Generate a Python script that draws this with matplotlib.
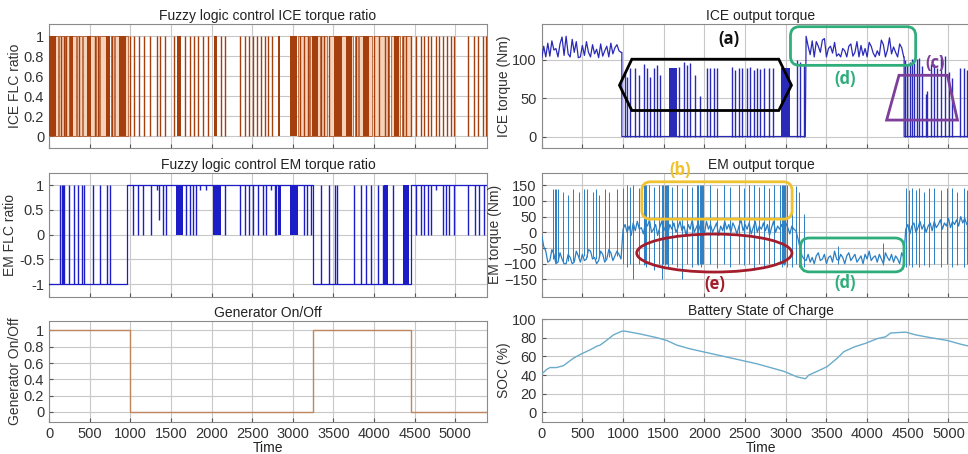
import numpy as np
import matplotlib
matplotlib.use("Agg")
import matplotlib.pyplot as plt
from matplotlib.patches import Polygon, Ellipse, FancyBboxPatch

plt.rcParams['font.family'] = ['Liberation Sans', 'DejaVu Sans']

# ---- data ----
# Fuzzy logic ICE torque ratio: mostly-on stretches, dense switching bands, single switch lines
ice_flc_spans = [(0, 110), (125, 180), (200, 240), (250, 330), (345, 400), (415, 470), (480, 560),
                 (575, 610), (625, 740), (760, 800), (810, 970),
                 (3070, 3200), (3215, 3330), (3350, 3420), (3440, 3740), (3760, 3800), (3815, 3975),
                 (3995, 4190), (4210, 4325), (4340, 4460)]
ice_flc_bands = [(0, 85), (258, 298), (470, 512), (700, 745), (860, 945), (1570, 1630), (2035, 2070),
                 (2815, 2848), (2960, 3055), (3240, 3315), (3505, 3600), (3655, 3725), (3870, 3940),
                 (4240, 4305)]
ice_flc_lines = [150, 190, 215, 375, 560, 600, 780, 995, 1048, 1110, 1171, 1241, 1323, 1364, 1433,
                 1540, 1671, 1740, 1786, 1835, 1896, 1958, 2121, 2162, 2355, 2410, 2460, 2510, 2560,
                 2615, 2655, 2700, 2745, 3090, 3137, 3186, 3350, 3390, 3450, 3780, 4005, 4065, 4130,
                 4170, 4355, 4395, 4455, 4517, 4578, 4620, 4660, 4700, 4762, 4803, 4844, 4898, 4947,
                 4988, 5151, 5233, 5274, 5335, 5376]

# Fuzzy logic EM torque ratio: base level per stretch, pulses up from -1, drops down from +1
em_flc_switch_t = [0, 955, 3247, 4455, 5400]
em_flc_level = [-1, 1, -1, 1]
em_flc_up = [140, 155, 170, 190, 250, 311, 360, 401, 434, 545, 627, 709, 750, 3350, 3440, 3514, 3546,
             3751, 3841, 3903, 3964, 4046, 4107, 4230]
em_flc_up_bands = [(4128, 4177), (4353, 4435)]
em_flc_down = [(1036, 0), (1097, 0), (1159, 0), (1253, 0), (1323, 0.9), (1351, 0.3), (1405, 0),
               (1434, 0), (1691, 0), (1732, 0), (1773, 0), (1814, 0), (1855, 0.9), (1937, 0.9),
               (2162, 0), (2347, 0), (2408, 0), (2457, 0), (2510, 0), (2572, 0), (2633, 0), (2674, 0),
               (2727, 0.9), (2776, 0), (2797, 0), (3137, 0), (3178, 0), (3227, 0), (4517, 0), (4578, 0),
               (4619, 0), (4660, 0), (4701, 0), (4762, 0.9), (4844, 0), (4885, 0), (4926, 0), (4988, 0),
               (5151, 0), (5241, 0), (5295, 0), (5356, 0)]
em_flc_down_bands = [(1568, 1650), (2019, 2121), (2817, 2850), (2961, 3063)]

# Generator on/off
gen_switch_t = [0, 1000, 3250, 4450, 5400]
gen_state = [1, 0, 1, 0, 0]

# ICE output torque (Nm): noisy stretches sampled every 25 s, pulses (t, height), blocks
ice_tq_start1 = 0
ice_tq_vals1 = [102, 118, 104, 122, 105, 125, 113, 115, 104, 121, 130, 106, 131, 108, 104, 127, 110,
                124, 103, 104, 119, 106, 124, 110, 104, 120, 108, 114, 103, 121, 105, 112, 118, 104,
                122, 108, 116, 120, 112, 110]
ice_tq_start2 = 3250
ice_tq_vals2 = [131, 118, 107, 125, 104, 124, 118, 110, 126, 128, 104, 115, 118, 109, 123, 105, 108,
                104, 115, 112, 104, 118, 121, 105, 110, 124, 104, 119, 106, 115, 104, 123, 118, 109,
                104, 112, 106, 126, 120, 104, 113, 129, 108, 117, 110, 104, 121, 116, 104]
ice_tq_pulses = [(1018, 84), (1046, 78), (1087, 89), (1149, 89), (1190, 80), (1252, 95), (1293, 89),
                 (1334, 78), (1375, 89), (1416, 93), (1457, 80), (1683, 91), (1744, 98), (1785, 93),
                 (1826, 96), (1888, 80), (1950, 53), (2032, 89), (2073, 89), (2114, 89), (2155, 89),
                 (2340, 91), (2381, 87), (2422, 89), (2463, 89), (2524, 89), (2565, 91), (2606, 87),
                 (2647, 89), (2680, 88), (2729, 90), (2791, 89), (2844, 90), (3140, 100), (3181, 98),
                 (3222, 95), (4462, 100), (4494, 95), (4527, 98), (4556, 101), (4576, 96), (4617, 101),
                 (4638, 103), (4679, 92), (4720, 55), (4741, 60), (4782, 95), (4823, 95), (4864, 89),
                 (4913, 107), (4954, 105), (5007, 84), (5048, 77), (5143, 89), (5192, 89), (5233, 87),
                 (5290, 88), (5340, 90)]
ice_tq_blocks = [(1560, 1660, 89), (2943, 3049, 89)]

# EM output torque (Nm): base trace in stretches sampled every 25 s, and spikes (t, low, high)
em_tq_start_a = 0
em_tq_vals_a = [-10, -45, -60, -95, -90, -55, -70, -100, -95, -65, -85, -100, -100, -70, -80, -100,
                -95, -60, -75, -95, -70, -90, -85, -55, -60, -85, -80, -100, -90, -60, -70, -95, -85,
                -55, -65, -90, -75, -60, -70, -85]
em_tq_start_b = 1000
em_tq_vals_b = [10, 25, 0, 20, -10, 30, 5, 35, 10, 15, -5, 30, 20, 40, 0, 10, 25, -10, 15, 35, 5,
                20, -5, 25, 10, 30, 0, 15, 35, 5, 20, -10, 25, 10, 40, 0, 15, 30, 5, 20, -5, 35, 10,
                25, 0, 15, 30, -10, 20, 5, 35, 10, 25, 0, 30, 15, -5, 20, 40, 5, 25, 10, 30, -5, 15,
                35, 0, 20, 10, 30, 5, 25, -10, 15, 35, 0, 20, 10, 25, 5, 30, 15, -5, 20, 10]
em_tq_start_c = 3125
em_tq_vals_c = [5, -20, -50, -75, -85]
em_tq_start_d = 3250
em_tq_vals_d = [-90, -70, -95, -80, -100, -75, -65, -90, -85, -70, -100, -80, -75, -95, -60, -85,
                -90, -70, -80, -100, -75, -65, -90, -80, -70, -95, -85, -75, -100, -70, -85, -60, -90,
                -80, -75, -95, -70, -85, -100, -65, -80, -90, -70, -95, -75, -85, -100, -65, -80]
em_tq_start_e = 4475
em_tq_vals_e = [10, 25, -5, 20, 30, 0, 15, 35, 10, 25, 0, 20, 30, 5, 35, 15, 25, 40, 10, 30, 20, 45,
                15, 35, 25, 40, 20, 50, 30, 45, 25, 40, 35, 50, 30, 45, 35, 40]
em_tq_spikes = [(143, -85, 137), (160, -90, 137), (172, -95, 137), (205, -90, 137), (266, -95, 130),
                (328, -90, 120), (381, -90, 137), (463, -80, 130), (525, -75, 137), (562, -80, 137),
                (628, -80, 130), (669, -85, 137), (710, -80, 120), (780, -85, 137), (825, -80, 130),
                (923, -75, 137),
                (1005, -100, 140), (1046, -110, 150), (1087, -100, 145), (1128, -150, 150),
                (1190, -100, 140), (1252, -105, 150), (1270, -100, 150), (1285, -110, 150),
                (1313, -100, 150), (1375, -120, 145), (1436, -100, 150), (1480, -150, 150),
                (1495, -100, 150), (1510, -105, 150), (1525, -100, 150), (1540, -100, 150),
                (1555, -110, 150), (1600, -100, 145), (1662, -110, 150), (1724, -150, 140),
                (1785, -100, 150), (1847, -110, 145), (1910, -100, 150), (1925, -105, 150),
                (1940, -100, 150), (1955, -110, 150), (1970, -100, 150), (1988, -100, 150),
                (2072, -100, 150), (2155, -115, 140), (2237, -100, 150), (2319, -110, 145),
                (2421, -100, 150), (2483, -105, 140), (2545, -100, 150), (2606, -120, 150),
                (2668, -100, 145), (2729, -110, 150), (2791, -100, 140), (2852, -105, 150),
                (2935, -100, 150), (2950, -110, 150), (2965, -100, 150), (2980, -105, 150),
                (2995, -100, 150), (3012, -110, 150), (3078, -110, 140), (3120, -100, 147),
                (3160, -110, 130), (3222, -110, 60),
                (3640, -100, -45), (4190, -105, -35),
                (4474, -110, 140), (4515, -105, 135), (4556, -110, 140), (4597, -100, 135),
                (4638, -110, 140), (4700, -105, 130), (4761, -110, 140), (4823, -100, 140),
                (4905, -110, 135), (4987, -100, 140), (5048, -110, 140), (5110, -105, 130),
                (5192, -110, 140), (5233, -100, 135), (5300, -105, 140), (5350, -110, 135)]

# Battery SOC (%)
soc_t = [0, 61, 102, 180, 266, 328, 390, 472, 595, 680, 718, 780, 882, 985, 1026, 1210, 1416, 1539,
         1662, 1826, 2031, 2237, 2442, 2647, 2852, 2976, 3058, 3140, 3242, 3283, 3386, 3509, 3632,
         3714, 3838, 3981, 4125, 4228, 4289, 4474, 4597, 4782, 4987, 5151, 5400]
soc_v = [41, 46, 48, 48, 50, 54, 58, 62, 67, 71, 72, 76, 83, 87, 87, 84, 80, 77, 72, 68, 64, 60, 56,
         52, 47, 44, 41, 38, 36, 40, 44, 49, 58, 65, 70, 74, 79, 81, 85, 86, 83, 80, 77, 73, 68]

XMAX = 5390
xt = np.arange(0, 5001, 500)

fig = plt.figure(figsize=(9.68, 4.54), dpi=100)
L, W = 49 / 968, 438 / 968
R, WR = 541.7 / 968, 438.5 / 968
ax1 = fig.add_axes([L, 0.674, W, 0.2731])
ax2 = fig.add_axes([L, 0.3465, W, 0.2731])
ax3 = fig.add_axes([L, 0.0711, W, 0.2225])
ax4 = fig.add_axes([R, 0.674, WR, 0.2731])
ax5 = fig.add_axes([R, 0.3465, WR, 0.2731])
ax6 = fig.add_axes([R, 0.0711, WR, 0.2262])


def style(ax, ylim, yticks, title, ylabel, xlabels=False):
    ax.set_xlim(0, XMAX)
    ax.set_ylim(*ylim)
    ax.set_xticks(xt)
    ax.set_yticks(yticks)
    ax.grid(True, color="#c8c8c8", lw=0.8)
    ax.set_axisbelow(True)
    ax.tick_params(direction="in", length=3, colors="#555555", labelsize=10.5, labelcolor="#333333")
    if not xlabels:
        ax.set_xticklabels([])
    else:
        ax.set_xlabel("Time", fontsize=10, labelpad=0, color="#222222")
    for s in ax.spines.values():
        s.set_color("#8a8a8a")
    ax.set_title(title, fontsize=10, pad=3, color="#222222")
    ax.set_ylabel(ylabel, fontsize=10, labelpad=1, color="#333333")


def stretch(start, vals):
    return start + 25 * np.arange(len(vals)), np.asarray(vals, dtype=float)


# --- ICE FLC ratio ---
brown = "#a5400e"
ax1.bar([a for a, b in ice_flc_spans], [1] * len(ice_flc_spans), width=[b - a for a, b in ice_flc_spans],
        align="edge", color="#f5d2b8", edgecolor=brown, lw=0.5, zorder=2)
ax1.bar([a for a, b in ice_flc_bands], [1] * len(ice_flc_bands), width=[b - a for a, b in ice_flc_bands],
        align="edge", color=brown, lw=0, zorder=3)
ax1.vlines(ice_flc_lines, 0, 1, color=brown, lw=1.0, zorder=3)
style(ax1, (-0.12, 1.12), np.arange(0, 1.01, 0.2), "Fuzzy logic control ICE torque ratio", "ICE FLC ratio")
ax1.set_yticklabels(["0", "0.2", "0.4", "0.6", "0.8", "1"])

# --- EM FLC ratio ---
blue = "#1d1dc8"
ax2.step(em_flc_switch_t, em_flc_level + [em_flc_level[-1]], where="post", color=blue, lw=0.9, zorder=3)
ax2.vlines(em_flc_up, -1, 1, color=blue, lw=1.0, zorder=3)
ax2.vlines([t for t, lo in em_flc_down], [lo for t, lo in em_flc_down], 1, color=blue, lw=1.0, zorder=3)
for a, b in em_flc_up_bands:
    ax2.fill_between([a, b], -1, 1, color=blue, lw=0, zorder=3)
for a, b in em_flc_down_bands:
    ax2.fill_between([a, b], 0, 1, color=blue, lw=0, zorder=3)
style(ax2, (-1.25, 1.25), [-1, -0.5, 0, 0.5, 1], "Fuzzy logic control EM torque ratio", "EM FLC ratio")
ax2.set_yticklabels(["-1", "-0.5", "0", "0.5", "1"])

# --- Generator ---
ax3.step(gen_switch_t, gen_state, where="post", color="#c0875f", lw=1.0, zorder=3)
style(ax3, (-0.12, 1.12), np.arange(0, 1.01, 0.2), "Generator On/Off", "Generator On/Off", xlabels=True)
ax3.set_yticklabels(["0", "0.2", "0.4", "0.6", "0.8", "1"])

# --- ICE torque ---
iceb = "#2a2ab8"
t1, v1 = stretch(ice_tq_start1, ice_tq_vals1)
t2, v2 = stretch(ice_tq_start2, ice_tq_vals2)
line_t = list(t1) + [985, 985, 3240] + list(t2) + [4455, 4455, 5400]
line_v = list(v1) + [v1[-1], 0, 0] + list(v2) + [v2[-1], 0, 0]
ax4.plot(line_t, line_v, color=iceb, lw=0.9, zorder=3)
ax4.vlines([t for t, h in ice_tq_pulses], 0, [h for t, h in ice_tq_pulses], color=iceb, lw=1.0, zorder=3)
for a, b, h in ice_tq_blocks:
    ax4.fill_between([a, b], 0, h, color=iceb, lw=0, zorder=3)
style(ax4, (-15, 147), [0, 50, 100], "ICE output torque", "ICE torque (Nm)")

lab_font = ["Open Sans", "DejaVu Sans"]
ax4.add_patch(Polygon([(956, 67), (1108, 101), (2914, 101), (3070, 67), (2914, 34), (1108, 34)],
                      closed=True, fill=False, ec="black", lw=2, zorder=5))
ax4.text(2298, 127, "(a)", ha="center", va="center", fontsize=12, fontweight="bold", color="#111111",
         family=lab_font, zorder=6)
ax4.add_patch(FancyBboxPatch((3058, 93), 1539, 50.5, boxstyle="round,pad=0,rounding_size=110",
                             mutation_aspect=0.109, fill=False, ec="#2fae7c", lw=2, zorder=5, clip_on=False))
ax4.text(3735, 75, "(d)", ha="center", va="center", fontsize=12, fontweight="bold", color="#2fae7c",
         family=lab_font, zorder=6)
ax4.add_patch(Polygon([(4240, 21.5), (4392, 80), (4987, 80), (5110, 21.5)], closed=True, fill=False,
                      ec="#7d3f9a", lw=2, zorder=5))
ax4.text(4830, 96, "(c)", ha="center", va="center", fontsize=12, fontweight="bold", color="#7d3f9a",
         family=lab_font, zorder=6)

# --- EM torque ---
emb = "#2a7fc4"
em_t, em_v = [], []
for st, vals in [(em_tq_start_a, em_tq_vals_a), (em_tq_start_b, em_tq_vals_b), (em_tq_start_c, em_tq_vals_c),
                 (em_tq_start_d, em_tq_vals_d), (em_tq_start_e, em_tq_vals_e)]:
    tt, vv = stretch(st, vals)
    em_t.extend(tt)
    em_v.extend(vv)
ax5.plot(em_t, em_v, color=emb, lw=0.9, zorder=3)
ax5.vlines([s[0] for s in em_tq_spikes], [s[1] for s in em_tq_spikes], [s[2] for s in em_tq_spikes],
           color=emb, lw=0.7, zorder=3)
style(ax5, (-205, 190), np.arange(-150, 151, 50), "EM output torque", "EM torque (Nm)")

ax5.add_patch(FancyBboxPatch((1231, 42), 1847, 119, boxstyle="round,pad=0,rounding_size=110",
                             mutation_aspect=0.259, fill=False, ec="#efc22e", lw=2, zorder=5))
ax5.text(1703, 198, "(b)", ha="center", va="center", fontsize=12, fontweight="bold", color="#efc22e",
         family=lab_font, zorder=6, clip_on=False)
ax5.add_patch(Ellipse((2122, -66), 1908, 121, fill=False, ec="#a31d2c", lw=2, zorder=5))
ax5.text(2122, -165, "(e)", ha="center", va="center", fontsize=12, fontweight="bold", color="#a31d2c",
         family=lab_font, zorder=6)
ax5.add_patch(FancyBboxPatch((3181, -126), 1272, 108, boxstyle="round,pad=0,rounding_size=110",
                             mutation_aspect=0.259, fill=False, ec="#2fae7c", lw=2, zorder=5))
ax5.text(3735, -160, "(d)", ha="center", va="center", fontsize=12, fontweight="bold", color="#2fae7c",
         family=lab_font, zorder=6)

# --- SOC ---
ax6.plot(soc_t, soc_v, color="#6aaccb", lw=1.0, zorder=3)
style(ax6, (-10, 100), np.arange(0, 101, 20), "Battery State of Charge", "SOC (%)", xlabels=True)

fig.savefig("out.png", dpi=100)
